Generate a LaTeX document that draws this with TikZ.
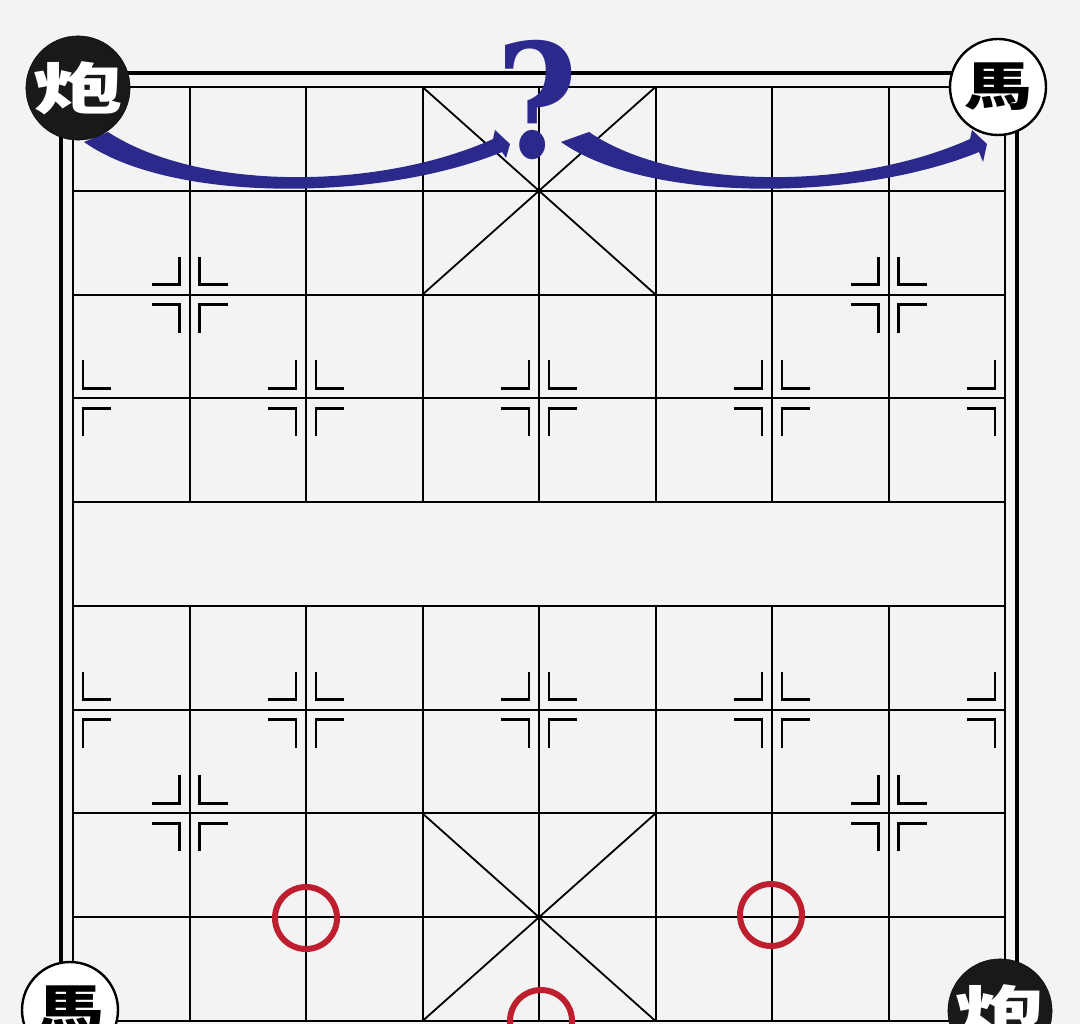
\documentclass[tikz,border=0pt]{standalone}
\usepackage{fontspec}
\usepackage{graphicx}
\newfontfamily\cjk{Noto Sans CJK TC}
\newfontfamily\qfont{DejaVu Serif}
\definecolor{bg}{HTML}{F3F3F3}
\definecolor{arrowblue}{HTML}{2B2A8C}
\definecolor{ringred}{HTML}{BE1E2D}
\tikzset{
  gridline/.style={line width=2pt, black},
  frameline/.style={line width=4.8pt, black},
  markline/.style={line width=2.6pt, black},
  palaceline/.style={line width=1.8pt, black},
  blackpiece/.style={circle, fill=black!90, draw=black, minimum size=98, inner sep=0pt, text=white,
    font=\cjk\bfseries\fontsize{56}{56}\selectfont},
  whitepiece/.style={circle, fill=white!97!bg, draw=black, line width=2.4pt, minimum size=96, inner sep=0pt, text=black,
    font=\cjk\bfseries\fontsize{52}{52}\selectfont},
  redring/.style={circle, draw=ringred, line width=6pt, minimum size=62, inner sep=0pt},
  qmark/.style={inner sep=0pt, text=arrowblue, font=\qfont\bfseries\fontsize{158}{158}\selectfont},
  pics/quad/.style args={#1/#2}{code={\draw[markline] (#1*10,#2*38) -- (#1*10,#2*10) -- (#1*38,#2*10);}}
}
\begin{document}
\begin{tikzpicture}[x=1pt,y=-1pt]
\useasboundingbox (0,0) rectangle (1080,1024);
\fill[bg] (0,0) rectangle (1080,1024);
\clip (0,0) rectangle (1080,1024);
% grid coordinates
\foreach \i in {0,...,8} \foreach \j in {0,...,9}
  \coordinate (g\i-\j) at ({73+116.5*\i},{87+103.78*\j});
% horizontal lines
\foreach \j in {0,...,9} \draw[gridline] (g0-\j) -- (g8-\j);
% vertical lines
\foreach \i in {1,...,7} {
  \draw[gridline] (g\i-0) -- (g\i-4);
  \draw[gridline] (g\i-5) -- (g\i-9);
}
\draw[gridline] (g0-0) -- (g0-9);
\draw[gridline] (g8-0) -- (g8-9);
% palaces
\draw[palaceline] (g3-0) -- (g5-2);
\draw[palaceline] (g5-0) -- (g3-2);
\draw[palaceline] (g3-7) -- (g5-9);
\draw[palaceline] (g5-7) -- (g3-9);
% frame
\draw[frameline] (61,1100) -- (61,73) -- (1017,73) -- (1017,1100);
% position marks
\foreach \p in {g1-2,g7-2,g2-3,g4-3,g6-3,g2-6,g4-6,g6-6,g1-7,g7-7} {
  \foreach \a/\b in {1/1,1/-1,-1/1,-1/-1} \pic at (\p) {quad=\a/\b};
}
\foreach \p in {g0-3,g0-6} { \pic at (\p) {quad=1/1}; \pic at (\p) {quad=1/-1}; }
\foreach \p in {g8-3,g8-6} { \pic at (\p) {quad=-1/1}; \pic at (\p) {quad=-1/-1}; }
% red rings
\node[redring] (r1) at (306,918) {};
\node[redring] (r2) at (771,915) {};
\node[redring] (r3) at (541,1021) {};
% arrows
\fill[arrowblue] (84,142) .. controls (170,203) and (380,202) .. (502,152)
  -- (506,158) -- (510,144) -- (495,130) -- (493,139)
  .. controls (380,190) and (200,192) .. (108,132) -- cycle;
\begin{scope}[shift={(477,0)}]
\fill[arrowblue] (84,142) .. controls (170,203) and (380,202) .. (502,152)
  -- (506,162) -- (510,144) -- (495,130) -- (493,139)
  .. controls (380,190) and (200,192) .. (112,132) -- cycle;
\end{scope}
% question mark
\node[qmark] (q) at (537,100) {\scalebox{0.88}[1]{?}};
% pieces
\node[blackpiece] (pTL) at (78,88) {\scalebox{1.6}[1]{炮}};
\node[whitepiece] (pTR) at (998,87) {\scalebox{1.3}[1]{馬}};
\node[whitepiece] (pBL) at (70,1010) {\scalebox{1.3}[1]{馬}};
\node[blackpiece] (pBR) at (1000,1011) {\scalebox{1.6}[1]{炮}};
\end{tikzpicture}
\end{document}
